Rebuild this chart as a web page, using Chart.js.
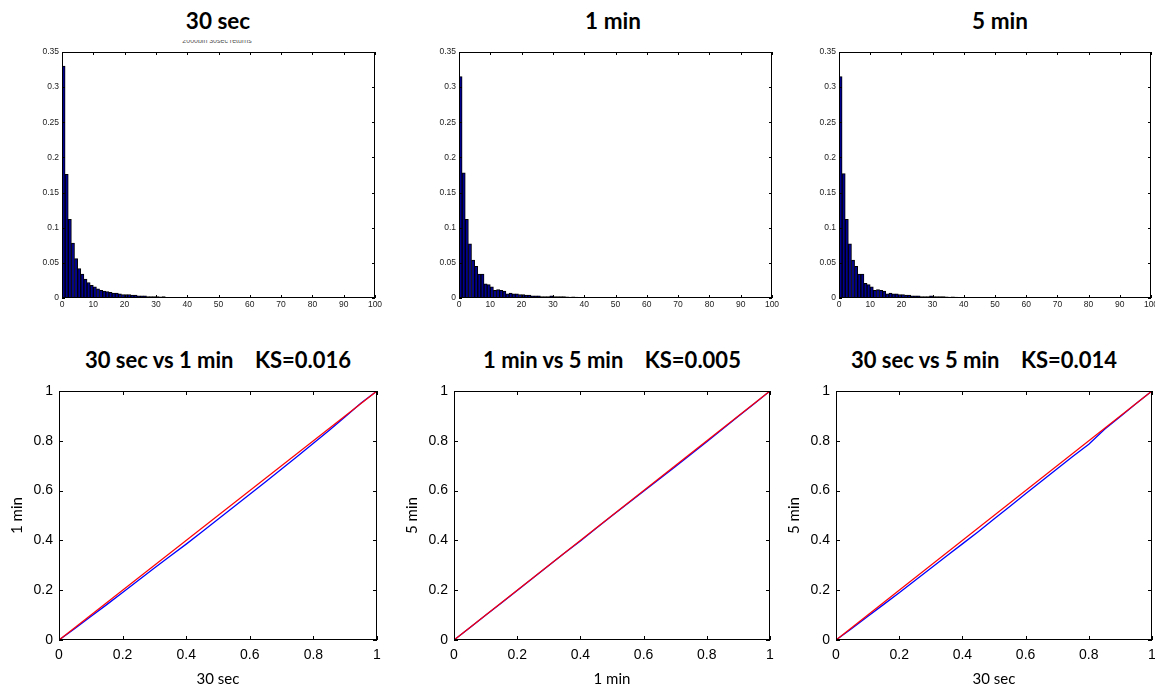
<!DOCTYPE html>
<html>
<head>
<meta charset="utf-8">
<script src="https://cdn.jsdelivr.net/npm/chart.js@4.4.1/dist/chart.umd.min.js"></script>
<style>
  body { margin: 0; background: #fff; }
  #page { position: relative; width: 1155px; height: 687px; overflow: hidden; background: #fff; }
  canvas { position: absolute; }
  .title { position: absolute; font-family: Lato, sans-serif; font-weight: 700; color: #000;
           text-align: center; white-space: pre; line-height: 1; }
  .sub { position: absolute; height: 5px; overflow: hidden; text-align: center;
         font: 7px "Liberation Sans", Arial, sans-serif; color: #555; }
  .sub span { display: block; line-height: 8px; margin-top: -3px; }
</style>
</head>
<body>
<div id="page">
  <div class="title" style="left:118px;top:10px;width:200px;font-size:22.5px">30 sec</div>
  <div class="title" style="left:513px;top:10px;width:200px;font-size:22.5px">1 min</div>
  <div class="title" style="left:900px;top:10px;width:200px;font-size:22.5px">5 min</div>
  <div class="sub" style="left:137px;top:40px;width:160px"><span>2000bin 30sec returns</span></div>

  <div class="title" style="left:38px;top:349px;width:360px;font-size:22px">30 sec vs 1 min    KS=0.016</div>
  <div class="title" style="left:432px;top:349px;width:360px;font-size:22px">1 min vs 5 min    KS=0.005</div>
  <div class="title" style="left:804px;top:349px;width:360px;font-size:22px">30 sec vs 5 min    KS=0.014</div>

  <canvas id="h1" width="363" height="272" style="left:22px;top:44px"></canvas>
  <canvas id="h2" width="363" height="272" style="left:419px;top:44px"></canvas>
  <canvas id="h3" width="356" height="272" style="left:799px;top:44px"></canvas>

  <canvas id="p1" width="387" height="304" style="left:0px;top:383px"></canvas>
  <canvas id="p2" width="385" height="304" style="left:395px;top:383px"></canvas>
  <canvas id="p3" width="378" height="304" style="left:777px;top:383px"></canvas>
</div>
<script>
// histogram bin frequencies, bins of width 1 from 0 to 100
const hist30s = [
  0.330, 0.176, 0.112, 0.078, 0.056, 0.042, 0.034, 0.027, 0.022, 0.018,
  0.016, 0.013, 0.011, 0.010, 0.009, 0.008, 0.007, 0.007, 0.006, 0.005,
  0.005, 0.005, 0.004, 0.004, 0.003, 0.003, 0.003, 0.002, 0.002, 0.002,
  0.002, 0.0015, 0.002, 0.001, 0.001, 0.001, 0.001, 0.001, 0.001, 0.001,
  0.001, 0.0008, 0.0008, 0.0008, 0.0008, 0.0008, 0.0007, 0.0007, 0.0007, 0.0007,
  0.0006, 0.0006, 0.0006, 0.0006, 0.0006, 0.0006, 0.0005, 0.0005, 0.0005, 0.0005,
  0.0005, 0.0005, 0.0005, 0.0005, 0.0005, 0.0004, 0.0004, 0.0004, 0.0004, 0.0004,
  0.0004, 0.0004, 0.0004, 0.0003, 0.0003, 0.0003, 0.0002, 0, 0.0003, 0.0002,
  0.0002, 0, 0.0003, 0.0003, 0.0003, 0.0002, 0, 0.0002, 0, 0.0003,
  0.0002, 0, 0.0002, 0.0002, 0, 0.0002, 0.0002, 0, 0, 0.0002
];
const hist1m = [
  0.315, 0.178, 0.112, 0.077, 0.054, 0.045, 0.034, 0.034, 0.020, 0.019,
  0.016, 0.011, 0.012, 0.011, 0.010, 0.006, 0.007, 0.006, 0.006, 0.005,
  0.005, 0.004, 0.004, 0.003, 0.003, 0.003, 0.002, 0.002, 0.002, 0.003,
  0.002, 0.002, 0.002, 0.002, 0.0015, 0.0012, 0.0015, 0.0012, 0.001, 0.001,
  0.001, 0.001, 0.0008, 0.0008, 0.0005, 0.0005, 0.0008, 0, 0.0005, 0.0008,
  0.0008, 0, 0.0005, 0.0005, 0, 0.0005, 0, 0.0005, 0.0005, 0,
  0.0005, 0, 0.0005, 0.0005, 0, 0.0004, 0, 0.0004, 0.0004, 0,
  0.0004, 0, 0.0004, 0.0004, 0, 0, 0.0003, 0, 0.0003, 0,
  0, 0, 0, 0, 0, 0, 0, 0, 0.0003, 0,
  0, 0, 0, 0, 0, 0, 0, 0.0003, 0, 0
];
const hist5m = [
  0.315, 0.177, 0.112, 0.077, 0.054, 0.045, 0.034, 0.034, 0.021, 0.019,
  0.016, 0.011, 0.012, 0.011, 0.010, 0.006, 0.007, 0.006, 0.006, 0.005,
  0.005, 0.004, 0.004, 0.003, 0.003, 0.003, 0.002, 0.002, 0.002, 0.003,
  0.002, 0.002, 0.002, 0.002, 0.0015, 0.0012, 0.0015, 0.0012, 0.001, 0.001,
  0.001, 0.001, 0.0008, 0.0008, 0.0005, 0, 0.0008, 0, 0.0005, 0.0008,
  0.0008, 0, 0.0005, 0, 0, 0.0005, 0, 0.0005, 0, 0,
  0.0005, 0, 0.0005, 0, 0, 0.0004, 0, 0.0004, 0, 0,
  0.0004, 0, 0.0004, 0.0004, 0, 0, 0.0003, 0, 0.0003, 0,
  0, 0, 0, 0, 0, 0, 0, 0, 0.0003, 0,
  0, 0, 0, 0, 0, 0, 0, 0.0003, 0, 0
];

// probability plot values
const ppX      = [0, 0.05, 0.1, 0.15, 0.2, 0.25, 0.3, 0.35, 0.4, 0.45, 0.5, 0.55, 0.6, 0.65, 0.7, 0.75, 0.8, 0.85, 0.9, 0.95, 1];
const pp30s1m  = [0, 0.046, 0.094, 0.142, 0.191, 0.240, 0.289, 0.337, 0.385, 0.435, 0.485, 0.535, 0.585, 0.636, 0.687, 0.738, 0.790, 0.842, 0.897, 0.952, 1];
const pp1m5m   = [0, 0.049, 0.099, 0.149, 0.199, 0.249, 0.299, 0.349, 0.398, 0.449, 0.499, 0.548, 0.597, 0.647, 0.696, 0.746, 0.796, 0.847, 0.899, 0.949, 1];
const pp30s5m  = [0, 0.046, 0.094, 0.142, 0.190, 0.239, 0.288, 0.337, 0.386, 0.435, 0.486, 0.536, 0.587, 0.638, 0.688, 0.738, 0.786, 0.846, 0.898, 0.950, 1];
const diagX = [0, 1];
const diagY = [0, 1];

const histTicksX = [0, 10, 20, 30, 40, 50, 60, 70, 80, 90, 100];
const histTicksY = [0, 0.05, 0.1, 0.15, 0.2, 0.25, 0.3, 0.35];
const ppTicks = [0, 0.2, 0.4, 0.6, 0.8, 1];

// matlab-ish box with inward ticks on all four sides
const boxTicks = {
  id: 'boxTicks',
  afterDatasetsDraw(chart, args, opts) {
    const { ctx, chartArea: a, scales: { x, y } } = chart;
    const len = opts.len || 3;
    ctx.save();
    ctx.strokeStyle = '#000';
    ctx.lineWidth = 1;
    ctx.beginPath();
    x.ticks.forEach(t => {
      const px = Math.round(x.getPixelForValue(t.value)) + 0.5;
      ctx.moveTo(px, a.bottom); ctx.lineTo(px, a.bottom - len);
      ctx.moveTo(px, a.top); ctx.lineTo(px, a.top + len);
    });
    y.ticks.forEach(t => {
      const py = Math.round(y.getPixelForValue(t.value)) + 0.5;
      ctx.moveTo(a.left, py); ctx.lineTo(a.left + len, py);
      ctx.moveTo(a.right, py); ctx.lineTo(a.right - len, py);
    });
    ctx.stroke();
    ctx.strokeRect(Math.round(a.left) + 0.5, Math.round(a.top) + 0.5,
                   Math.round(a.width) - 1, Math.round(a.height) - 1);
    ctx.restore();
  }
};

function fixedTicks(list) {
  return function (scale) {
    scale.ticks = list.map(v => ({ value: v }));
  };
}

function makeHist(id, values, padRight) {
  const pts = values.map((v, i) => ({ x: i + 0.5, y: v }));
  new Chart(document.getElementById(id), {
    type: 'bar',
    data: { datasets: [{ data: pts, backgroundColor: '#000090', borderColor: '#000',
                         borderWidth: 1, barPercentage: 1, categoryPercentage: 1 }] },
    plugins: [boxTicks],
    options: {
      responsive: false, animation: false,
      layout: { padding: { top: 8, right: padRight, left: 0, bottom: 0 } },
      plugins: { legend: { display: false }, tooltip: { enabled: false }, boxTicks: { len: 3 } },
      scales: {
        x: {
          type: 'linear', min: 0, max: 100, offset: false,
          grid: { display: false, drawTicks: false }, border: { display: false },
          afterBuildTicks: fixedTicks(histTicksX),
          ticks: { padding: 2, maxRotation: 0, autoSkip: false, color: '#222',
                   font: { family: 'Liberation Sans', size: 8.5 }, callback: v => String(v) },
          afterFit: s => { s.height = 18; s.paddingLeft = 0; s.paddingRight = 0; }
        },
        y: {
          min: 0, max: 0.35,
          grid: { display: false, drawTicks: false }, border: { display: false },
          afterBuildTicks: fixedTicks(histTicksY),
          ticks: { padding: 3, autoSkip: false, color: '#222',
                   font: { family: 'Liberation Sans', size: 8.5 }, callback: v => String(+v.toFixed(2)) },
          afterFit: s => { s.width = 40; s.paddingTop = 0; s.paddingBottom = 0; }
        }
      }
    }
  });
}

function makePP(id, blue, xTitle, yTitle, padRight) {
  const bluePts = ppX.map((x, i) => ({ x: x, y: blue[i] }));
  const redPts = diagX.map((x, i) => ({ x: x, y: diagY[i] }));
  const tickFont = { family: 'Liberation Sans', size: 14 };
  const titleFont = { family: 'Lato', size: 15, lineHeight: 1 };
  new Chart(document.getElementById(id), {
    type: 'scatter',
    data: { datasets: [
      // red first so it is drawn on top
      { data: redPts, showLine: true, borderColor: '#ff0000', borderWidth: 1.3, pointRadius: 0 },
      { data: bluePts, showLine: true, borderColor: '#0000ff', borderWidth: 1.3, pointRadius: 0, tension: 0 }
    ] },
    plugins: [boxTicks],
    options: {
      responsive: false, animation: false,
      layout: { padding: { top: 8, right: padRight, left: 0, bottom: 0 } },
      plugins: { legend: { display: false }, tooltip: { enabled: false }, boxTicks: { len: 4 } },
      scales: {
        x: {
          type: 'linear', min: 0, max: 1,
          grid: { display: false, drawTicks: false }, border: { display: false },
          afterBuildTicks: fixedTicks(ppTicks),
          ticks: { padding: 7, maxRotation: 0, autoSkip: false, color: '#000', font: tickFont,
                   callback: v => String(+v.toFixed(1)) },
          title: { display: true, text: xTitle, color: '#000', font: titleFont, padding: { top: 0, bottom: 0 } },
          afterFit: s => { s.height = 47; s.paddingLeft = 0; s.paddingRight = 0; }
        },
        y: {
          min: 0, max: 1,
          grid: { display: false, drawTicks: false }, border: { display: false },
          afterBuildTicks: fixedTicks(ppTicks),
          ticks: { padding: 6, autoSkip: false, color: '#000', font: tickFont,
                   callback: v => String(+v.toFixed(1)) },
          title: { display: true, text: yTitle, color: '#000', font: titleFont, padding: { top: 10, bottom: 0 } },
          afterFit: s => { s.width = 59; s.paddingTop = 0; s.paddingBottom = 0; }
        }
      }
    }
  });
}

makeHist('h1', hist30s, 10);
makeHist('h2', hist1m, 10);
makeHist('h3', hist5m, 4);

makePP('p1', pp30s1m, '30 sec', '1 min', 10);
makePP('p2', pp1m5m, '1 min', '5 min', 10);
makePP('p3', pp30s5m, '30 sec', '5 min', 3);
</script>
</body>
</html>
